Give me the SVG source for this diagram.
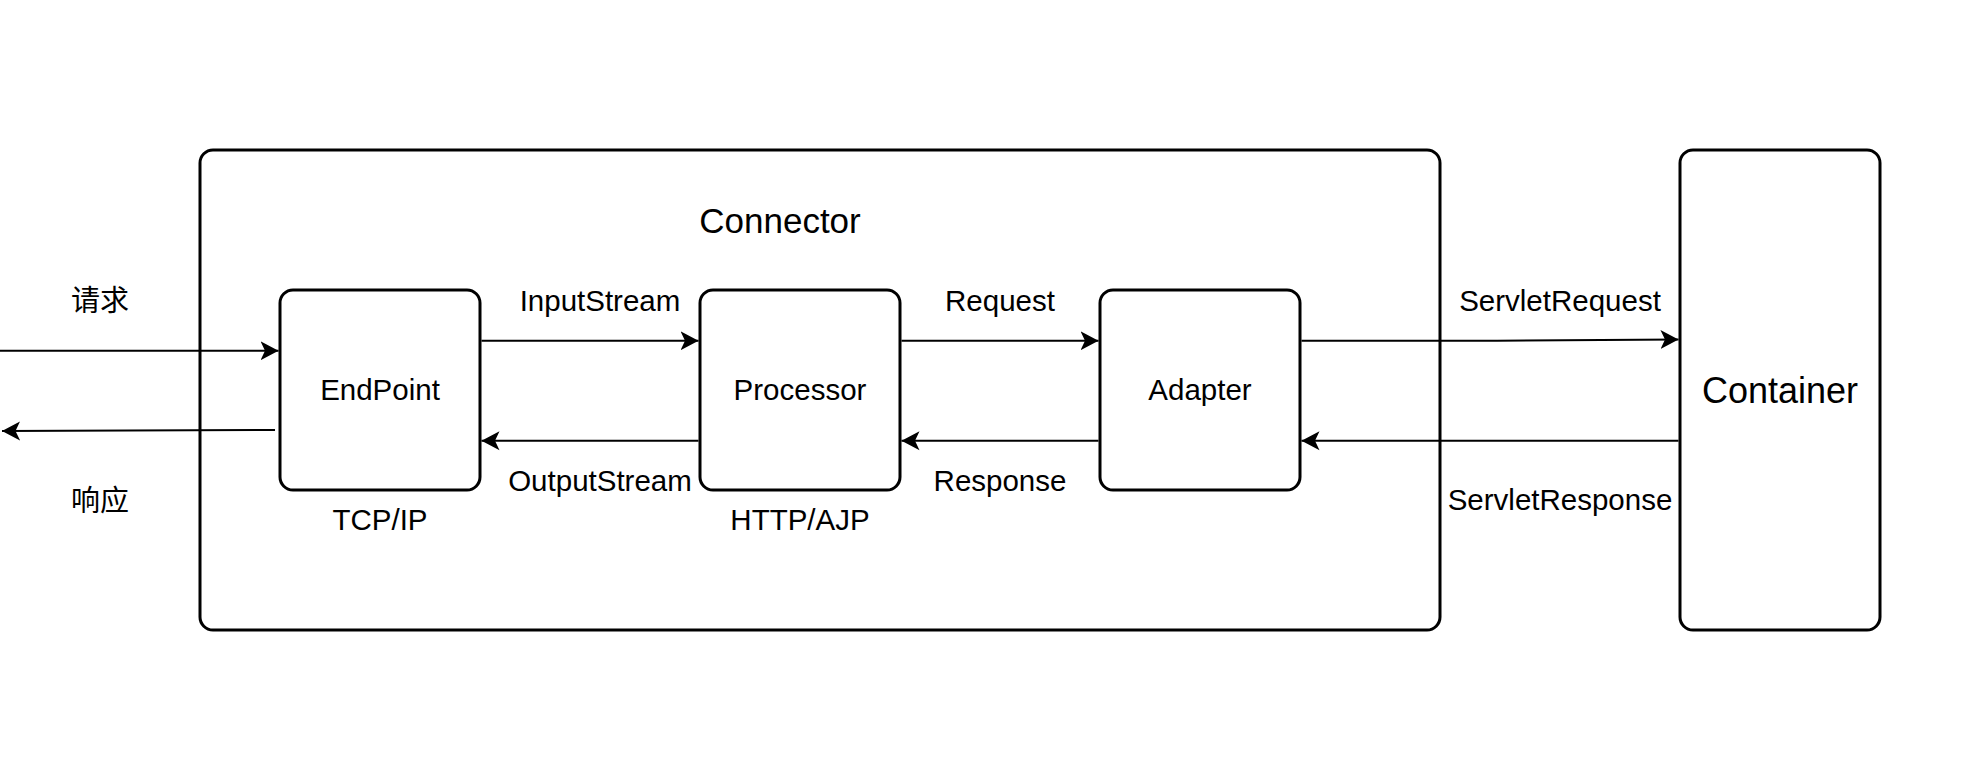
<svg xmlns="http://www.w3.org/2000/svg" width="1986" height="758" viewBox="0 0 1986 758">
<style>
.box{fill:#fff;stroke:#000;stroke-width:3}
.ln{fill:none;stroke:#000;stroke-width:2}
text{font-family:"Liberation Sans",Arial,"Noto Sans CJK SC",sans-serif;fill:#000;text-anchor:middle}
.lbl{font-size:29.5px}
.cjk{font-family:"Liberation Sans","Noto Sans CJK SC",sans-serif;font-size:29px}
</style>
<defs>
<marker id="arr" markerUnits="userSpaceOnUse" viewBox="-18 -10 20 20" refX="0" refY="0" markerWidth="20" markerHeight="20" orient="auto">
<path d="M0,0 L-18,-9.5 L-13.5,0 L-18,9.5 Z" fill="#000"/>
</marker>
</defs>
<rect width="1986" height="758" fill="#fff"/>
<g id="connector">
<rect class="box" x="200" y="150" width="1240" height="480" rx="13"/>
<text x="780" y="233" style="font-size:35px">Connector</text>
</g>
<g id="container">
<rect class="box" x="1680" y="150" width="200" height="480" rx="13"/>
<text x="1780" y="403" style="font-size:36px">Container</text>
</g>
<g id="endpoint">
<rect class="box" x="280" y="290" width="200" height="200" rx="13"/>
<text class="lbl" x="380" y="400">EndPoint</text>
<text class="lbl" x="380" y="530">TCP/IP</text>
</g>
<g id="processor">
<rect class="box" x="700" y="290" width="200" height="200" rx="13"/>
<text class="lbl" x="800" y="400">Processor</text>
<text class="lbl" x="800" y="530">HTTP/AJP</text>
</g>
<g id="adapter">
<rect class="box" x="1100" y="290" width="200" height="200" rx="13"/>
<text class="lbl" x="1200" y="400">Adapter</text>
</g>
<g id="connectors">
<path class="ln" d="M0,350.7 L278.5,350.7" marker-end="url(#arr)"/>
<path class="ln" d="M275,430 L2,431" marker-end="url(#arr)"/>
<path class="ln" d="M481.5,340.7 L698.5,340.7" marker-end="url(#arr)"/>
<path class="ln" d="M698.5,440.7 L481.5,440.7" marker-end="url(#arr)"/>
<path class="ln" d="M901.5,340.7 L1098.5,340.7" marker-end="url(#arr)"/>
<path class="ln" d="M1098.5,440.7 L901.5,440.7" marker-end="url(#arr)"/>
<path class="ln" d="M1301.5,340.7 L1497,340.7 L1678.5,339.5" marker-end="url(#arr)"/>
<path class="ln" d="M1678.5,440.7 L1301.5,440.7" marker-end="url(#arr)"/>
<text class="cjk" x="100" y="311">请求</text>
<text class="cjk" x="100" y="511">响应</text>
<text class="lbl" x="600" y="311">InputStream</text>
<text class="lbl" x="600" y="491">OutputStream</text>
<text class="lbl" x="1000" y="311">Request</text>
<text class="lbl" x="1000" y="491">Response</text>
<text class="lbl" x="1560" y="311">ServletRequest</text>
<text class="lbl" x="1560" y="510">ServletResponse</text>
</g>
</svg>
